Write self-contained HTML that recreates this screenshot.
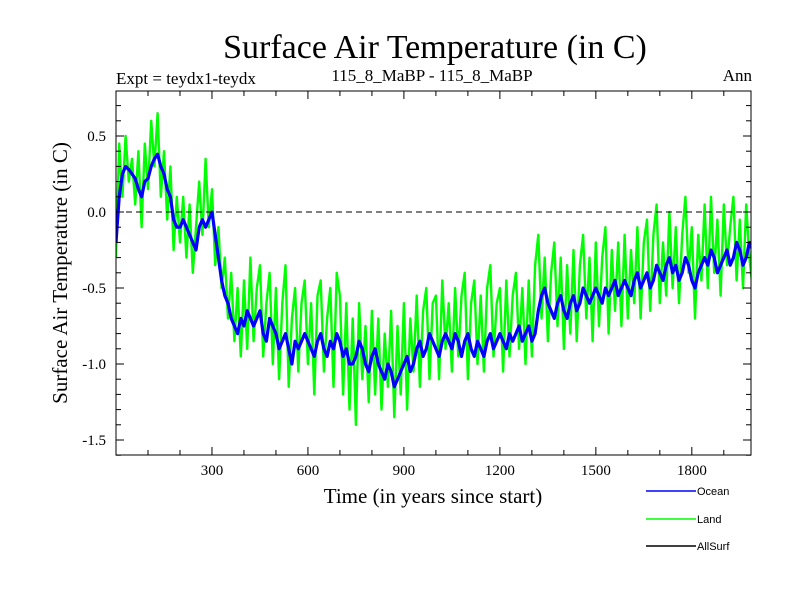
<!DOCTYPE html>
<html><head><meta charset="utf-8"><style>
body{margin:0;background:#fff;}
svg{display:block;font-family:"Liberation Serif",serif;}
</style></head><body>
<svg id="chart" width="800" height="600">
<text x="435" y="58" text-anchor="middle" font-size="34">Surface Air Temperature (in C)</text>
<text x="116" y="84" font-size="17">Expt = teydx1-teydx</text>
<text x="432" y="81" text-anchor="middle" font-size="17">115_8_MaBP - 115_8_MaBP</text>
<text x="752" y="81" text-anchor="end" font-size="17">Ann</text>
<text transform="translate(67,273) rotate(-90)" text-anchor="middle" font-size="21">Surface Air Temperature (in C)</text>
<text x="433" y="503" text-anchor="middle" font-size="21">Time (in years since start)</text>
<g id="plot"></g>
<g font-family="Liberation Sans, sans-serif" font-size="11">
<line x1="646" y1="491" x2="696" y2="491" stroke="#0000ff" stroke-width="1.5"/>
<text x="697" y="495">Ocean</text>
<line x1="646" y1="519" x2="696" y2="519" stroke="#00ff00" stroke-width="1.5"/>
<text x="697" y="523">Land</text>
<line x1="646" y1="546" x2="696" y2="546" stroke="#000" stroke-width="1.5"/>
<text x="697" y="550">AllSurf</text>
</g>
</svg>
<script>
const yearStep = 10;
const xTicks = [300,600,900,1200,1500,1800];
const yTicks = [0.5,0.0,-0.5,-1.0,-1.5];
const yTickLabels = ["0.5","0.0","-0.5","-1.0","-1.5"];
const ocean = [-0.2,0.1,0.25,0.3,0.28,0.25,0.22,0.15,0.1,0.2,0.22,0.3,0.35,0.38,0.3,0.25,0.15,0.1,-0.05,-0.1,
-0.1,-0.05,-0.1,-0.15,-0.2,-0.25,-0.1,-0.05,-0.1,-0.05,0.0,-0.15,-0.3,-0.45,-0.55,-0.6,-0.7,-0.75,-0.8,-0.7,
-0.75,-0.65,-0.7,-0.75,-0.7,-0.65,-0.8,-0.85,-0.7,-0.75,-0.8,-0.9,-0.85,-0.8,-0.9,-1.0,-0.85,-0.9,-0.85,-0.8,
-0.85,-0.9,-0.95,-0.85,-0.8,-0.9,-0.95,-0.85,-0.9,-0.8,-0.85,-0.95,-0.9,-1.0,-1.0,-0.95,-0.85,-0.9,-1.0,-1.05,
-0.95,-0.9,-1.0,-1.05,-1.1,-1.0,-1.05,-1.15,-1.1,-1.05,-1.0,-0.95,-1.05,-1.0,-0.9,-0.85,-0.95,-0.9,-0.8,-0.85,
-0.9,-0.95,-0.85,-0.8,-0.85,-0.9,-0.8,-0.85,-0.95,-0.85,-0.8,-0.9,-0.95,-0.85,-0.9,-0.95,-0.85,-0.8,-0.9,-0.85,
-0.8,-0.85,-0.9,-0.8,-0.85,-0.8,-0.75,-0.85,-0.8,-0.75,-0.85,-0.8,-0.65,-0.55,-0.5,-0.6,-0.65,-0.7,-0.6,-0.55,
-0.65,-0.7,-0.6,-0.55,-0.65,-0.6,-0.5,-0.55,-0.6,-0.55,-0.5,-0.55,-0.6,-0.5,-0.55,-0.5,-0.45,-0.55,-0.5,-0.45,
-0.5,-0.55,-0.45,-0.4,-0.5,-0.45,-0.4,-0.5,-0.45,-0.35,-0.4,-0.45,-0.35,-0.3,-0.4,-0.35,-0.45,-0.4,-0.3,-0.35,
-0.45,-0.5,-0.4,-0.35,-0.3,-0.35,-0.25,-0.3,-0.4,-0.35,-0.3,-0.25,-0.35,-0.3,-0.2,-0.25,-0.35,-0.3,-0.2,-0.25];
const land = [-0.3,0.45,0.1,0.5,0.2,0.35,0.05,0.4,-0.1,0.45,0.15,0.6,0.3,0.65,0.1,0.4,-0.05,0.3,-0.25,0.1,
-0.2,0.1,-0.3,0.05,-0.4,-0.1,0.2,-0.15,0.35,-0.1,0.15,-0.35,-0.1,-0.5,-0.3,-0.7,-0.4,-0.85,-0.5,-0.95,
-0.45,-0.9,-0.3,-0.85,-0.5,-0.35,-0.95,-0.6,-0.4,-1.0,-0.5,-1.1,-0.6,-0.35,-1.15,-0.7,-0.5,-1.05,-0.6,-0.45,
-1.0,-0.6,-1.2,-0.55,-0.45,-1.05,-0.7,-0.5,-1.15,-0.4,-0.55,-1.2,-0.6,-1.3,-0.7,-1.4,-0.6,-1.1,-0.75,-1.25,
-0.65,-1.2,-0.7,-1.3,-0.8,-1.15,-0.65,-1.35,-0.75,-1.2,-0.6,-1.3,-0.7,-1.05,-0.55,-1.15,-0.65,-0.5,-1.1,-0.6,
-0.55,-1.1,-0.45,-0.9,-0.6,-1.05,-0.5,-0.95,-0.55,-0.4,-1.1,-0.6,-0.45,-1.0,-0.55,-1.05,-0.5,-0.35,-0.95,-0.6,
-0.5,-1.05,-0.45,-0.95,-0.55,-0.4,-0.9,-0.5,-1.0,-0.45,-0.95,-0.35,-0.15,-0.7,-0.3,-0.85,-0.4,-0.2,-0.75,-0.3,
-0.9,-0.35,-0.8,-0.25,-0.85,-0.35,-0.15,-0.7,-0.3,-0.85,-0.2,-0.75,-0.3,-0.1,-0.8,-0.25,-0.65,-0.2,-0.75,-0.15,
-0.7,-0.25,-0.6,-0.1,-0.7,-0.2,-0.05,-0.65,-0.15,0.05,-0.6,-0.2,-0.55,0.0,-0.5,-0.1,-0.6,-0.15,0.1,-0.4,
-0.1,-0.7,-0.15,-0.45,0.05,-0.5,0.1,-0.4,-0.05,-0.55,0.05,-0.35,-0.1,0.1,-0.45,-0.05,-0.5,0.05,-0.3,-0.5];

const L=116,R=751,T=91,B=455;
const X=v=>L+(v-0)*(R-L)/1985;
const Y=v=>212-v*152;
const NS="http://www.w3.org/2000/svg";
const g=document.getElementById('plot');
function mk(tag,attrs){const e=document.createElementNS(NS,tag);for(const k in attrs)e.setAttribute(k,attrs[k]);g.appendChild(e);return e;}
function pts(arr){return arr.map((v,i)=>X(i*yearStep).toFixed(1)+','+Y(v).toFixed(1)).join(' ');}
const defs=mk('clipPath',{id:'clip'});
const cr=document.createElementNS(NS,'rect');cr.setAttribute('x',L);cr.setAttribute('y',T);cr.setAttribute('width',R-L);cr.setAttribute('height',B-T);defs.appendChild(cr);
const lp=mk('polyline',{points:pts(land),fill:'none',stroke:'#00ff00','stroke-width':2.4,'stroke-linejoin':'round','clip-path':'url(#clip)'});


const op=mk('polyline',{points:pts(ocean),fill:'none',stroke:'#0000ff','stroke-width':3.2,'stroke-linejoin':'round','clip-path':'url(#clip)'});


const zl=mk('line',{x1:L,x2:R,y1:Y(0),y2:Y(0),stroke:'#000','stroke-dasharray':'6,4','stroke-width':1});


const fr=mk('rect',{x:L,y:T,width:R-L,height:B-T,fill:'none',stroke:'#000','stroke-width':1});


for(let yr=100;yr<2000;yr+=100){const big=yr%300===0;
 mk('line',{x1:X(yr),x2:X(yr),y1:B,y2:B-(big?8:5),stroke:'#000'});
 mk('line',{x1:X(yr),x2:X(yr),y1:T,y2:T+(big?8:5),stroke:'#000'});}
for(let k=-16;k<=7;k++){const v=k/10;const big=k%5===0;
 mk('line',{x1:L,x2:L+(big?8:5),y1:Y(v),y2:Y(v),stroke:'#000'});
 mk('line',{x1:R,x2:R-(big?8:5),y1:Y(v),y2:Y(v),stroke:'#000'});}
xTicks.forEach(t=>{const e=mk('text',{x:X(t),y:475,'text-anchor':'middle','font-size':15});e.textContent=t;
 
 });
yTicks.forEach((t,i)=>{const e=mk('text',{x:106,y:Y(t)+5,'text-anchor':'end','font-size':15});e.textContent=yTickLabels[i];
 
 });
</script>
</body></html>
